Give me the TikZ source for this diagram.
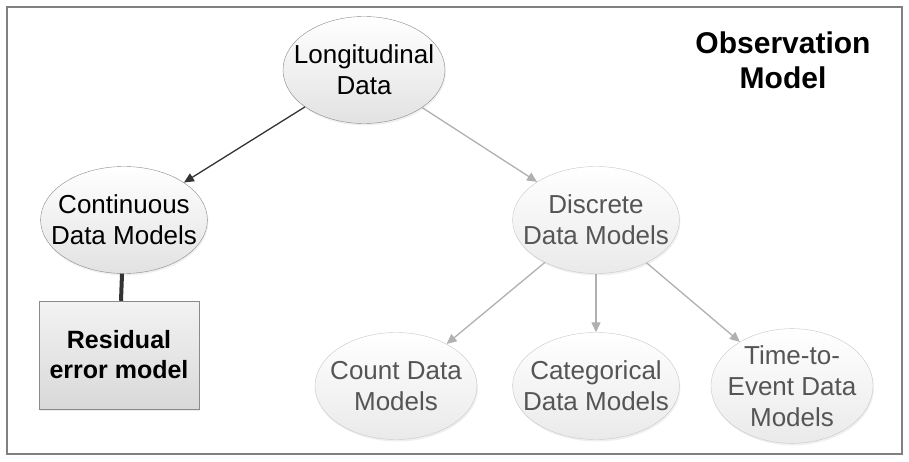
\documentclass[tikz,border=0pt]{standalone}
\usepackage{fontspec}
\setmainfont{Liberation Sans}
\usetikzlibrary{positioning,shapes.geometric,arrows.meta,shadows}
\definecolor{rimgray}{HTML}{8A8A8A}
\definecolor{fillgray}{HTML}{E2E2E2}
\definecolor{fadedrim}{HTML}{C8C8C8}
\definecolor{fadedfill}{HTML}{EAEAEA}
\definecolor{fadedtext}{HTML}{555555}
\definecolor{arrowgray}{HTML}{B0B0B0}
\definecolor{darkline}{HTML}{333333}
\begin{document}
\begin{tikzpicture}[->, >={Triangle[length=10pt,width=9pt]}, x=1pt, y=-1pt,
    node distance=166pt and 200pt, on grid,
    main node/.style={ellipse, draw=rimgray, top color=white, bottom color=fillgray, minimum width=162pt, minimum height=107pt, inner xsep=-14pt, inner ysep=0pt, align=center, drop shadow={opacity=0.12, shadow xshift=1pt, shadow yshift=-2pt}},
    faded node/.style={main node, draw=fadedrim, bottom color=fadedfill, text=fadedtext},
    box node/.style={rectangle, draw=rimgray, top color=white!95!black, bottom color=black!15, minimum width=160pt, minimum height=108pt, align=center, font=\bfseries\fontsize{25}{30}\selectfont, drop shadow={opacity=0.15, shadow xshift=1pt, shadow yshift=-2pt}}]
        \tikzstyle{every node}=[font=\fontsize{26}{31}\selectfont]
        \useasboundingbox (0,0) rectangle (909,462);
        \draw[-, draw=gray, line width=1.2pt] (7,7) rectangle (902,454);

          \node[main node] (1) at (364,70) {Longitudinal\\Data};
          \node[main node] (2) [below left=150pt and 240pt of 1] {Continuous\\Data Models};
          \node[faded node] (3) [below right=150pt and 232pt of 1] {Discrete\\Data Models};
          \node[box node] (4) [below=135pt of 2, xshift=-5pt] {Residual\\error model};
          \node[faded node] (5) [below left=of 3] {Count Data\\Models};
          \node[faded node] (6) [below=of 3] {Categorical\\Data Models};
          \node[faded node] (7) [below right=166pt and 196pt of 3] {Time-to-\\Event Data\\Models};
          \node[font=\bfseries\fontsize{30}{35}\selectfont, align=center] (8) at (783,60) {Observation\\Model};

          \path[line width=1.3pt]
            (1) edge [darkline] (2)
                edge [arrowgray] (3)
            (2) edge [-, darkline, line width=4pt] (4)
            (3) edge [arrowgray] (5)
                edge [arrowgray] (6)
                edge [arrowgray] (7);

        \end{tikzpicture}
\end{document}
